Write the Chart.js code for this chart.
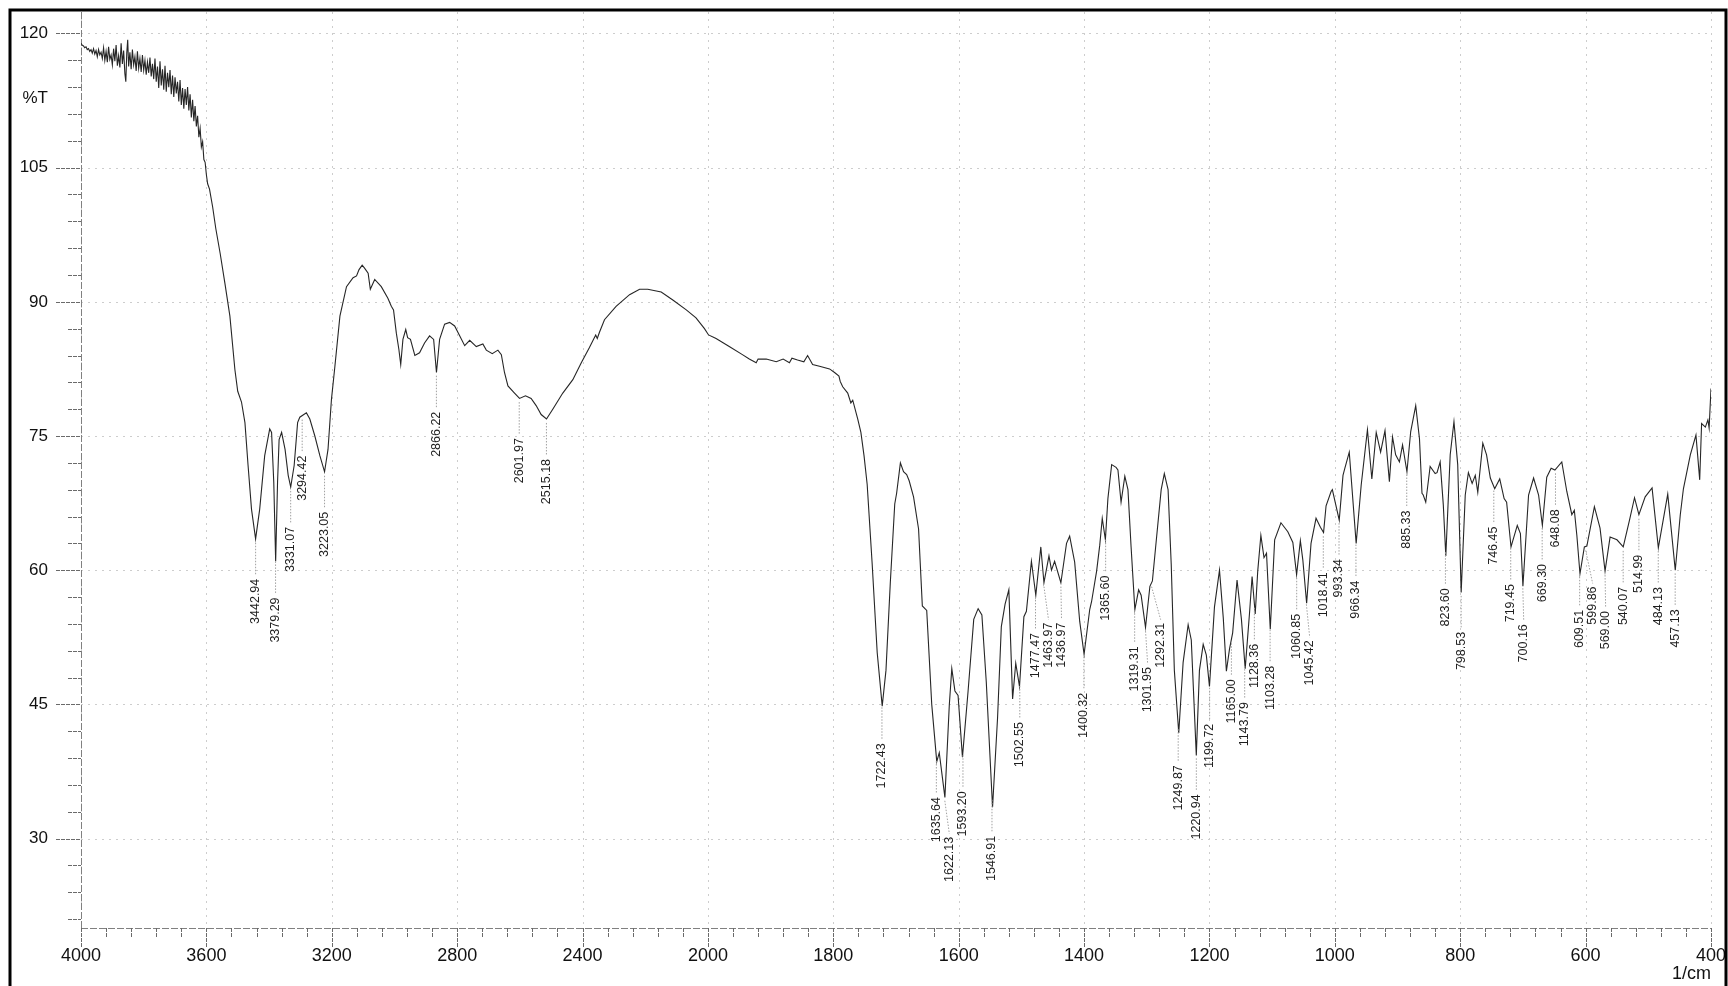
<!DOCTYPE html>
<html>
<head>
<meta charset="utf-8">
<title>IR spectrum</title>
<style>
  html, body { margin: 0; padding: 0; background: #fff; }
  #wrap { width: 1728px; height: 986px; }
</style>
<script src="https://cdn.jsdelivr.net/npm/chart.js@4.4.1/dist/chart.umd.min.js"></script>
</head>
<body>
<div id="wrap"><canvas id="irChart" width="1728" height="986"></canvas></div>
<script>
// wavenumber (1/cm), %T
const spectrum = [
  [4000,118.9],[3996,118.7],[3992,118.6],[3988,118.4],[3984,118.5],[3980,118.2],[3976,118.3],[3972,118.0],
  [3968,118.2],[3964,117.8],[3960,118.3],[3956,117.7],[3952,118.1],[3948,117.4],[3944,118.2],[3940,117.6],
  [3936,117.9],[3932,117.2],[3928,118.4],[3924,117.0],[3920,118.0],[3916,116.8],[3912,118.5],[3908,117.1],
  [3904,117.6],[3900,116.5],[3896,118.3],[3892,116.9],[3888,118.7],[3884,116.4],[3880,117.5],[3876,116.2],
  [3872,118.9],[3868,116.6],[3864,118.1],[3860,115.5],[3857,114.6],[3854,117.8],[3851,119.3],[3848,116.3],
  [3844,117.9],[3840,116.0],[3836,118.2],[3832,116.5],[3828,117.4],[3824,115.8],[3820,118.0],[3816,116.1],
  [3812,117.2],[3808,115.7],[3804,117.6],[3800,115.9],[3796,117.0],[3792,115.4],[3788,116.8],[3784,115.6],
  [3780,117.3],[3776,115.2],[3772,116.6],[3768,114.9],[3764,117.2],[3760,114.6],[3756,116.3],[3752,113.9],
  [3748,116.9],[3744,114.2],[3740,116.0],[3736,113.7],[3732,116.4],[3728,113.5],[3724,115.6],[3720,114.0],
  [3716,115.9],[3712,113.2],[3708,115.3],[3704,112.9],[3700,115.1],[3696,113.3],[3692,114.6],[3688,112.4],
  [3684,114.8],[3680,112.0],[3676,113.9],[3672,111.6],[3668,113.8],[3664,112.0],[3660,114.0],[3656,111.4],
  [3652,113.2],[3648,110.6],[3644,112.6],[3640,110.2],[3636,111.9],[3632,109.6],[3628,110.8],[3624,108.4],
  [3620,109.4],[3616,107.3],[3612,107.9],[3608,105.9],[3604,105.6],[3600,104.2],[3596,103.2],[3590,102.6],
  [3580,100.6],[3570,98.2],
  [3556,95.4],[3541,92.1],[3525,88.4],[3509,82.4],[3500,80.0],[3488,78.8],[3477,76.5],[3467,71.7],
  [3456,66.8],[3443,63.5],[3430,66.8],[3414,72.8],[3398,75.8],[3392,75.4],[3385,69.8],[3379,61.0],
  [3373,69.8],[3368,74.6],[3360,75.4],[3349,73.5],[3339,70.6],[3331,69.3],[3320,71.7],[3309,76.5],
  [3302,77.1],[3281,77.6],[3270,76.9],[3254,75.0],[3238,72.8],[3223,71.0],[3212,73.5],[3201,79.1],
  [3190,82.8],[3174,88.4],[3153,91.7],[3132,92.7],[3121,92.9],[3113,93.6],[3103,94.1],[3096,93.8],
  [3084,93.2],[3077,91.4],[3063,92.5],[3042,91.7],[3021,90.4],[3010,89.5],[3003,89.1],[2994,86.5],
  [2986,84.7],[2980,83.0],[2973,85.8],[2964,86.9],[2958,86.0],[2949,85.8],[2935,84.0],[2920,84.3],
  [2904,85.4],[2888,86.2],[2875,85.8],[2866,82.1],[2856,85.8],[2840,87.5],[2824,87.7],[2808,87.3],
  [2792,86.2],[2776,85.1],[2760,85.7],[2739,85.0],[2718,85.3],[2707,84.6],[2688,84.2],[2670,84.6],
  [2659,84.1],[2649,82.1],[2638,80.6],[2617,79.8],[2601,79.2],[2582,79.5],[2564,79.2],[2548,78.4],
  [2532,77.4],[2515,76.9],[2495,78.0],[2463,79.8],[2431,81.3],[2404,83.2],[2378,84.9],[2358,86.3],
  [2353,85.9],[2346,86.6],[2330,88.0],[2293,89.5],[2250,90.8],[2218,91.4],[2192,91.4],[2149,91.1],
  [2112,90.2],[2069,89.1],[2038,88.2],[2011,87.0],[1999,86.3],[1987,85.9],[1966,85.0],[1945,84.1],
  [1934,83.6],[1923,83.2],[1920,83.6],[1907,83.6],[1891,83.3],[1880,83.6],[1870,83.2],[1866,83.7],
  [1857,83.5],[1847,83.3],[1841,84.0],[1833,83.0],[1822,82.8],[1806,82.5],[1798,82.1],[1791,81.7],
  [1789,81.1],[1785,80.5],[1777,79.8],[1772,78.7],[1769,79.0],[1761,76.9],[1756,75.4],[1751,72.8],
  [1746,69.6],[1738,60.7],[1730,50.8],[1722,44.8],[1716,48.8],[1709,58.7],[1702,67.4],[1699,68.6],
  [1693,72.0],[1688,71.0],[1683,70.7],[1679,70.0],[1672,68.2],[1664,64.6],[1658,56.0],[1651,55.5],
  [1643,45.0],[1635,38.6],[1631,39.6],[1622,34.6],[1615,44.9],[1611,49.0],[1606,46.5],[1601,46.0],
  [1594,39.1],[1585,46.5],[1576,54.5],[1569,55.7],[1563,55.0],[1556,47.5],[1546,33.5],[1538,43.5],
  [1532,53.7],[1526,56.2],[1520,57.8],[1514,45.6],[1509,49.6],[1503,47.0],[1496,54.8],[1492,55.4],
  [1484,61.0],[1477,57.2],[1469,62.6],[1464,58.6],[1456,61.6],[1452,60.0],[1447,61.0],[1437,58.6],
  [1428,63.0],[1423,63.8],[1415,60.9],[1407,54.3],[1400,50.6],[1391,55.6],[1388,56.5],[1380,59.9],
  [1375,62.8],[1371,65.8],[1366,63.4],[1362,68.0],[1356,71.8],[1349,71.5],[1346,71.2],[1341,67.6],
  [1335,70.5],[1330,69.0],[1325,62.6],[1319,55.6],[1313,57.8],[1309,57.2],[1302,53.6],[1295,58.2],
  [1291,58.8],[1285,63.2],[1277,69.0],[1272,70.8],[1266,69.0],[1261,60.7],[1256,48.8],[1249,41.8],
  [1242,49.7],[1234,53.9],[1229,52.2],[1221,39.3],[1216,48.8],[1210,51.7],[1205,50.5],[1200,47.0],
  [1192,55.9],[1184,60.0],[1178,54.7],[1173,48.7],[1168,51.2],[1163,53.0],[1156,58.9],[1149,54.5],
  [1143,49.0],[1136,55.3],[1132,59.3],[1127,55.1],[1123,59.9],[1118,63.9],[1113,61.4],[1109,61.9],
  [1103,53.4],[1096,63.4],[1086,65.3],[1075,64.3],[1067,63.1],[1061,59.5],[1055,63.3],[1051,61.1],
  [1045,56.3],[1038,63.0],[1030,65.8],[1023,64.8],[1018,64.2],[1014,67.2],[1006,68.8],[1004,69.0],
  [993,65.6],[987,70.6],[984,71.4],[977,73.2],[966,63.0],[958,69.5],[948,75.7],[941,70.2],
  [934,75.4],[927,73.2],[920,75.6],[913,69.9],[908,74.9],[903,72.9],[897,72.1],[892,74.0],
  [885,71.0],[879,75.5],[871,78.4],[865,74.7],[861,68.6],[859,68.4],[855,67.6],[848,71.6],
  [840,70.8],[837,70.9],[832,72.1],[827,67.3],[823,61.6],[816,72.9],[810,76.6],[804,71.8],
  [798.5,57.5],[792,68.4],[787,70.9],[781,69.7],[776,70.6],[772,68.7],[764,74.2],[758,72.9],
  [752,70.3],[745,69.1],[737,70.2],[730,68.0],[726,67.6],[719,62.6],[709,65.0],[704,64.1],
  [700,58.2],[691,68.4],[683,70.3],[675,68.4],[669,65.0],[662,70.4],[655,71.4],[649,71.2],
  [638,72.1],[630,68.8],[622,66.2],[618,66.7],[614,63.9],[609,59.6],[602,62.6],[598,62.7],
  [586,67.1],[577,64.7],[569,59.9],[561,63.7],[550,63.4],[540,62.6],[530,65.6],[522,68.1],
  [515,66.2],[505,68.2],[494,69.2],[484,62.5],[469,68.5],[457,60.0],[449,66.2],[444,69.1],
  [433,72.9],[424,75.1],[418,70.1],[415,76.4],[409,76.0],[405,76.8],[403,75.9],[400,80.3]
];

const peakLabels = [
  3442.94, 3379.29, 3331.07, 3294.42, 3223.05, 2866.22, 2601.97, 2515.18,
  1722.43, 1635.64, 1622.13, 1593.20, 1546.91, 1502.55, 1477.47, 1463.97, 1436.97,
  1400.32, 1365.60, 1319.31, 1301.95, 1292.31, 1249.87, 1220.94, 1199.72, 1165.00,
  1143.79, 1128.36, 1103.28, 1060.85, 1045.42, 1018.41, 993.34, 966.34, 885.33,
  823.60, 798.53, 746.45, 719.45, 700.16, 669.30, 648.08, 609.51, 599.86, 569.00,
  540.07, 514.99, 484.13, 457.13
];

const xTickValues = [4000, 3600, 3200, 2800, 2400, 2000, 1800, 1600, 1400, 1200, 1000, 800, 600, 400];
const yTickValues = [30, 45, 60, 75, 90, 105, 120];

// the instrument doubles the scale below 2000 1/cm
const X_MAX = 4000, X_MIN = 400, X_BREAK = 2000;
function toUnit(v) {
  return v >= X_BREAK ? (X_MAX - v) / 400 : (X_MAX - X_BREAK) / 400 + (X_BREAK - v) / 200;
}
function fromUnit(u) {
  const ub = (X_MAX - X_BREAK) / 400;
  return u <= ub ? X_MAX - u * 400 : X_BREAK - (u - ub) * 200;
}

class SplitWavenumberScale extends Chart.LinearScale {
  buildTicks() {
    return xTickValues.map(v => ({ value: v }));
  }
  getPixelForValue(value) {
    return this.left + toUnit(value) / toUnit(X_MIN) * this.width;
  }
  getValueForPixel(pixel) {
    return fromUnit((pixel - this.left) / this.width * toUnit(X_MIN));
  }
}
SplitWavenumberScale.id = 'splitWavenumber';
SplitWavenumberScale.defaults = Chart.LinearScale.defaults;
Chart.register(SplitWavenumberScale);

function transmittanceAt(w) {
  for (let i = 0; i < spectrum.length - 1; i++) {
    const [w0, t0] = spectrum[i], [w1, t1] = spectrum[i + 1];
    if (w <= w0 && w >= w1) return t0 + (t1 - t0) * (w0 - w) / (w0 - w1);
  }
  return spectrum[spectrum.length - 1][1];
}

const fontFamily = '"Liberation Sans", Arial, sans-serif';

const axesPlugin = {
  id: 'irAxes',
  beforeDatasetsDraw(chart) {
    const { ctx, chartArea: a, scales: { x, y } } = chart;
    const line = (x1, y1, x2, y2) => { ctx.beginPath(); ctx.moveTo(x1, y1); ctx.lineTo(x2, y2); ctx.stroke(); };
    ctx.save();

    // faint dotted grid
    ctx.strokeStyle = '#cdcdcd';
    ctx.lineWidth = 1;
    ctx.setLineDash([2, 5]);
    xTickValues.forEach(v => { const px = Math.round(x.getPixelForValue(v)) + 0.5; line(px, a.top, px, a.bottom); });
    yTickValues.forEach(v => { const py = Math.round(y.getPixelForValue(v)) + 0.5; line(a.left, py, a.right, py); });

    // axis lines
    ctx.strokeStyle = '#808080';
    ctx.setLineDash([7, 2]);
    line(a.left + 0.5, a.top, a.left + 0.5, a.bottom);
    line(a.left, a.bottom + 0.5, a.right, a.bottom + 0.5);

    // tick marks
    ctx.strokeStyle = '#6a6a6a';
    ctx.setLineDash([4, 1]);
    xTickValues.forEach(v => { const px = Math.round(x.getPixelForValue(v)) + 0.5; line(px, a.bottom, px, a.bottom + 19); });
    for (let i = 0; i < xTickValues.length - 1; i++) {
      const v0 = xTickValues[i], v1 = xTickValues[i + 1];
      for (let k = 1; k < 5; k++) {
        const px = Math.round(x.getPixelForValue(v0 + (v1 - v0) * k / 5)) + 0.5;
        line(px, a.bottom, px, a.bottom + 10);
      }
    }
    for (let v = 21; v <= 120; v += 3) {
      const py = Math.round(y.getPixelForValue(v)) + 0.5;
      const major = yTickValues.includes(v);
      line(a.left - (major ? 25 : 13), py, a.left, py);
    }
    ctx.restore();
  },
  afterDraw(chart) {
    const { ctx, chartArea: a } = chart;
    ctx.save();
    ctx.fillStyle = '#111';
    ctx.font = '17px ' + fontFamily;
    ctx.textAlign = 'right';
    ctx.textBaseline = 'middle';
    ctx.fillText('%T', a.left - 33, 98);
    ctx.font = '18px ' + fontFamily;
    ctx.fillText('1/cm', a.right, 974);

    // scanned page frame
    ctx.strokeStyle = '#000';
    ctx.lineWidth = 3;
    ctx.beginPath();
    ctx.moveTo(10, 986); ctx.lineTo(10, 10); ctx.lineTo(1726, 10); ctx.lineTo(1726, 986);
    ctx.stroke();
    ctx.restore();
  }
};

const peakLabelPlugin = {
  id: 'peakLabels',
  afterDatasetsDraw(chart) {
    const { ctx, scales: { x, y } } = chart;
    ctx.save();
    ctx.font = '12.5px ' + fontFamily;
    const placed = [];
    peakLabels.forEach(w => {
      const text = w.toFixed(2);
      const len = ctx.measureText(text).width;
      const px = x.getPixelForValue(w);
      const py = y.getPixelForValue(transmittanceAt(w));
      const top = py + 40;
      let lx = px, moved = true;
      while (moved) {
        moved = false;
        placed.forEach(p => {
          if (Math.abs(p.top - top) < len + 2 && lx - p.lx < 13) { lx = p.lx + 13; moved = true; }
        });
      }
      placed.push({ lx, top });

      ctx.strokeStyle = '#a0a0a0';
      ctx.lineWidth = 1;
      ctx.setLineDash([1.5, 1.5]);
      ctx.beginPath();
      ctx.moveTo(px, py + 4);
      ctx.lineTo(lx, top - 3);
      ctx.stroke();

      ctx.save();
      ctx.translate(lx, top);
      ctx.rotate(-Math.PI / 2);
      ctx.fillStyle = '#1e1e1e';
      ctx.textAlign = 'right';
      ctx.textBaseline = 'middle';
      ctx.fillText(text, 0, 0);
      ctx.restore();
    });
    ctx.restore();
  }
};

new Chart(document.getElementById('irChart'), {
  type: 'line',
  data: {
    datasets: [{
      data: spectrum.map(p => ({ x: p[0], y: p[1] })),
      borderColor: '#262626',
      borderWidth: 1.1,
      pointRadius: 0,
      tension: 0,
      fill: false
    }]
  },
  options: {
    responsive: false,
    animation: false,
    devicePixelRatio: 1,
    layout: { padding: { top: 12, right: 17, left: 0, bottom: 0 } },
    plugins: { legend: { display: false }, tooltip: { enabled: false } },
    scales: {
      x: {
        type: 'splitWavenumber',
        min: X_MIN,
        max: X_MAX,
        // tick marks are drawn by the plugin; tickLength only spaces the labels
        grid: { display: false, drawTicks: true, tickLength: 17 },
        border: { display: false },
        ticks: {
          autoSkip: false, maxRotation: 0, padding: 0, color: '#111',
          font: { family: fontFamily, size: 18 },
          callback: v => String(v)
        },
        afterFit: s => { s.height = 58; }
      },
      y: {
        type: 'linear',
        min: 20,
        max: 122.4,
        grid: { display: false, drawTicks: true, tickLength: 33 },
        border: { display: false },
        ticks: {
          padding: 0, color: '#111',
          font: { family: fontFamily, size: 17 },
          callback: v => String(v)
        },
        afterBuildTicks: s => { s.ticks = yTickValues.map(v => ({ value: v })); },
        afterFit: s => { s.width = 81; }
      }
    }
  },
  plugins: [axesPlugin, peakLabelPlugin]
});
</script>
</body>
</html>
